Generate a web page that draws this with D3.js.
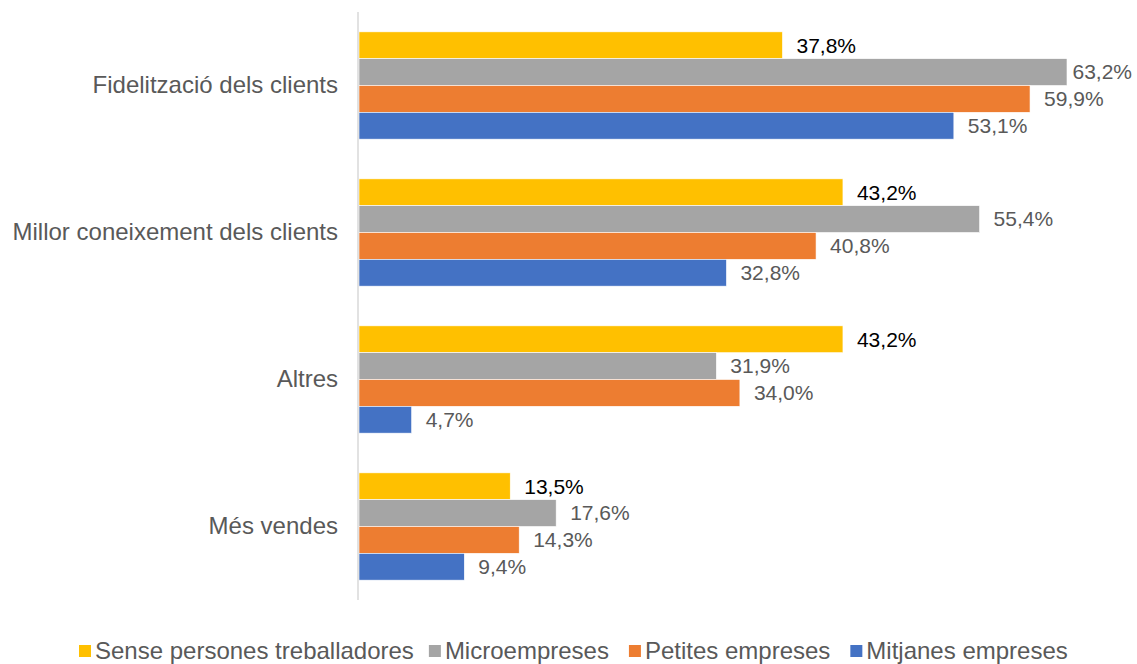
<!DOCTYPE html>
<html>
<head>
<meta charset="utf-8">
<script src="https://cdn.jsdelivr.net/npm/d3@7"></script>
<style>
  body { margin: 0; background: #fff; }
  text { font-family: "Liberation Sans", Arial, sans-serif; }
</style>
</head>
<body>
<div id="chart"></div>
<script>
// Data
const categories = ["Fidelització dels clients", "Millor coneixement dels clients", "Altres", "Més vendes"];
const series = ["Sense persones treballadores", "Microempreses", "Petites empreses", "Mitjanes empreses"];
const colors = ["#FFC000", "#A5A5A5", "#ED7D31", "#4472C4"];
const senseValues = [37.8, 43.2, 43.2, 13.5];
const microValues = [63.2, 55.4, 31.9, 17.6];
const petitesValues = [59.9, 40.8, 34.0, 14.3];
const mitjanesValues = [53.1, 32.8, 4.7, 9.4];

const allValues = [senseValues, microValues, petitesValues, mitjanesValues];

// Chart dimensions
const W = 1137, H = 664;
const margin = {top: 12, right: 71, bottom: 64, left: 358};
const width = W - margin.left - margin.right;
const height = H - margin.top - margin.bottom;

const svg = d3.select("#chart")
    .append("svg")
    .attr("width", W)
    .attr("height", H);

const g = svg.append("g")
    .attr("transform", "translate(" + margin.left + "," + margin.top + ")");

// Scales
const x = d3.scaleLinear()
    .domain([0, 63.2])
    .range([0, 708]);

const y0 = d3.scaleBand()
    .domain(categories)
    .range([0, height])
    .paddingInner(0.27)
    .paddingOuter(0.135);

const y1 = d3.scaleBand()
    .domain(series)
    .range([0, y0.bandwidth()]);

const fmt = v => d3.format(".1f")(v).replace(".", ",") + "%";

// Bars
const rows = [];
categories.forEach((c, i) => {
    series.forEach((s, j) => {
        rows.push({cat: c, ser: s, idx: j, value: allValues[j][i]});
    });
});

g.selectAll(".bar")
    .data(rows)
    .enter().append("rect")
    .attr("class", "bar")
    .attr("x", 1)
    .attr("y", d => y0(d.cat) + y1(d.ser))
    .attr("width", d => x(d.value))
    .attr("height", y1.bandwidth())
    .style("fill", d => colors[d.idx])
    .style("stroke", "#fff")
    .style("stroke-width", 0.6);

// Value labels
g.selectAll(".label")
    .data(rows)
    .enter().append("text")
    .attr("class", "label")
    .attr("y", d => y0(d.cat) + y1(d.ser) + y1.bandwidth() / 2)
    .attr("dy", ".35em")
    .style("font-size", "21px")
    .style("fill", d => d.idx === 0 ? "#000" : "#595959")
    .text(d => fmt(d.value))
    .attr("x", function(d) {
        const tw = this.getComputedTextLength();
        return Math.min(x(d.value) + 15, W - margin.left - 5 - tw);
    });

// Y axis
const yAxis = d3.axisLeft(y0).tickSize(0).tickPadding(20);
g.append("g")
    .attr("class", "y axis")
    .call(yAxis)
    .call(a => a.select(".domain").remove())
    .selectAll("text")
    .style("font-family", "'Liberation Sans', Arial, sans-serif")
    .style("font-size", "24px")
    .style("fill", "#595959");

g.append("line")
    .attr("x1", 0).attr("x2", 0)
    .attr("y1", 0).attr("y2", height)
    .style("stroke", "#D9D9D9")
    .style("stroke-width", 1.5);

// Legend
const legend = svg.append("g").attr("class", "legend");
const gaps = [15, 20, 20];
let lx = 0;
series.forEach((s, i) => {
    const item = legend.append("g").attr("transform", "translate(" + lx + ",0)");
    item.append("rect")
        .attr("x", 0).attr("y", -6)
        .attr("width", 12).attr("height", 12)
        .style("fill", colors[i]);
    const t = item.append("text")
        .attr("x", 16)
        .attr("dy", ".35em")
        .style("font-size", "24px")
        .style("fill", "#595959")
        .text(s);
    lx += 16 + t.node().getComputedTextLength() + (gaps[i] || 0);
});
legend.attr("transform", "translate(79,651)");
</script>
</body>
</html>
